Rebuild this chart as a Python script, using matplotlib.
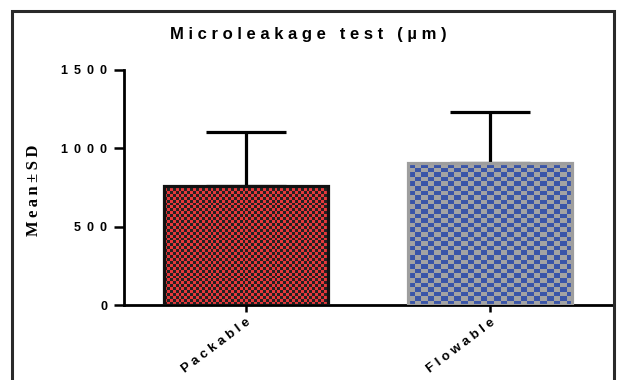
import numpy as np
import matplotlib
matplotlib.use('Agg')
import matplotlib.pyplot as plt
from matplotlib.patches import Rectangle

# data
groups = ['Packable', 'Flowable']
means = [760, 905]
sds = [345, 325]
yticks = [0, 500, 1000, 1500]

face_a = ['#e5383b', '#3a55a8']   # checker colour 1
face_b = ['#222222', '#a3a3a3']   # checker colour 2
edges = ['#111111', '#9e9e9e']
cell_px = [(2.9, 2.9), (6.6, 4.6)]

sans = ['Liberation Sans', 'DejaVu Sans']
serif = ['Liberation Serif', 'DejaVu Serif']


def spaced(s, sep=' '):
    # wide letter spacing like the original
    return sep.join(s)


fig = plt.figure(figsize=[6.17, 3.80], dpi=100)
ax = fig.add_axes([0.201, 0.197, 0.791, 0.619])

x = np.arange(len(groups))
bars = ax.bar(x, means, width=0.67, facecolor='none', zorder=3)
for b, ec in zip(bars, edges):
    b.set_edgecolor(ec)
    b.set_linewidth(2.3)

ax.errorbar(x, means, yerr=[[0] * len(sds), sds], fmt='none', ecolor='black',
            elinewidth=2.3, capsize=29, capthick=2.3, zorder=2)

ax.set_xlim(-0.5, 1.5)
ax.set_ylim(0, 1500)
ax.set_yticks(yticks)
ax.set_yticklabels([spaced(str(v), ' \u2009') for v in yticks],
                   family=sans, fontweight='bold', fontsize=9)
ax.set_xticks(x)
ax.set_xticklabels([spaced(g) for g in groups], rotation=37, ha='right',
                   rotation_mode='anchor', family=sans, fontweight='bold',
                   fontsize=9.5)

# checkerboard fill, clipped to each bar
fig.canvas.draw()
for i, b in enumerate(bars):
    x0, y0 = b.get_x(), b.get_y()
    w, h = b.get_width(), b.get_height()
    p0 = ax.transData.transform((x0, y0))
    p1 = ax.transData.transform((x0 + w, y0 + h))
    fx = abs(p1[0] - p0[0]) / cell_px[i][0]
    fy = abs(p1[1] - p0[1]) / cell_px[i][1]
    nx, ny = int(fx) + 1, int(fy) + 1
    board = (np.add.outer(np.arange(ny), np.arange(nx)) % 2).astype(float)
    cmap = matplotlib.colors.ListedColormap([face_a[i], face_b[i]])
    im = ax.imshow(board, cmap=cmap, interpolation='nearest', aspect='auto',
                   extent=(x0, x0 + nx * w / fx, y0 + h, y0 + h - ny * h / fy),
                   zorder=2.5)
    im.set_clip_path(b)
ax.set_xlim(-0.5, 1.5)
ax.set_ylim(0, 1500)

for s in ['top', 'right']:
    ax.spines[s].set_visible(False)
for s in ['left', 'bottom']:
    ax.spines[s].set_linewidth(2.0)
ax.tick_params(axis='y', width=1.8, length=7, color='black', pad=5)
ax.tick_params(axis='x', width=1.8, length=5, color='black', pad=3)

ax.set_ylabel(spaced('Mean±SD', '\u2009'), family=serif,
              fontweight='bold', fontsize=12)
ax.yaxis.set_label_coords(-0.168, 0.49)

fig.text(0.5, 0.908, spaced('Microleakage test (µm)'), family=sans,
         fontweight='bold', fontsize=12, ha='center', va='center')

# outer frame
fig.patches.append(Rectangle((0.019, -0.05), 0.976, 1.021, transform=fig.transFigure,
                             fill=False, edgecolor='#2a2a2a', linewidth=2.2))

fig.savefig('out.png', dpi=100)
